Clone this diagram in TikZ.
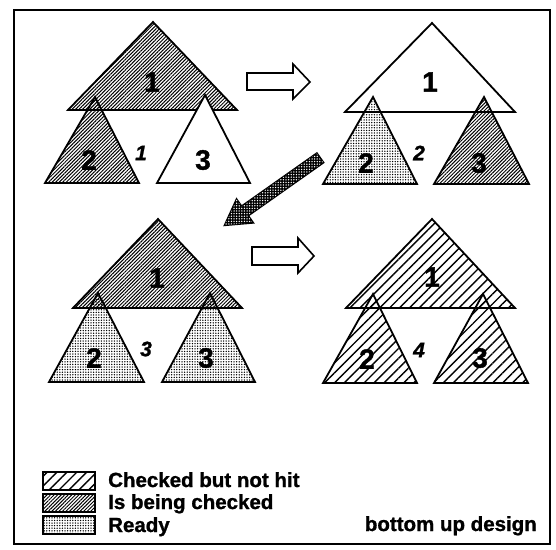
\documentclass[tikz,border=0pt]{standalone}
\usepackage{fontspec}
\setmainfont{Liberation Sans}[BoldFeatures={FakeBold=1.2},BoldItalicFeatures={FakeBold=1.2}]
\usetikzlibrary{patterns.meta}
\begin{document}
\begin{tikzpicture}[x=1pt,y=-1pt,line join=miter,
  tri/.style={draw=black,line width=1.8pt},
  chk/.style={tri,pattern={Lines[angle=45,distance=7pt,line width=1.4pt]}},
  being/.style={tri,pattern={Lines[angle=45,distance=2.5pt,line width=1pt]}},
  ready/.style={tri,pattern={Dots[distance=2.6pt,radius=0.75pt]}},
  plain/.style={tri,fill=white},
  digit/.style={font=\fontsize{28}{30}\selectfont\bfseries,inner sep=0pt},
  stepno/.style={font=\fontsize{21}{23}\selectfont\bfseries\itshape,inner sep=0pt},
  legtext/.style={font=\fontsize{20.5}{22}\selectfont\bfseries,inner sep=0pt,anchor=base west},
  hollow/.style={draw=black,line width=1.6pt,fill=white},
  frame/.style={draw=black,line width=2pt}]
\useasboundingbox (0,0) rectangle (556,549);
\draw[frame] (14,10) rectangle (550,544);

% panel 1
\draw[being] (153,22) -- (68,110) -- (237,110) -- cycle;
\draw[being] (95,97) -- (45,183) -- (139,183) -- cycle;
\draw[plain] (205,95) -- (157,183) -- (250,183) -- cycle;
\node[digit] (a1) at (152,82) {1};
\node[digit] (a2) at (89,160) {2};
\node[digit] (a3) at (203,160) {3};
\node[stepno] (s1) at (141,153) {1};

% panel 2
\draw[plain] (432,23) -- (345,112) -- (515,112) -- cycle;
\draw[ready] (373,97) -- (323,184) -- (417,184) -- cycle;
\draw[being] (484,97) -- (434,184) -- (529,184) -- cycle;
\node[digit] (b1) at (430,82) {1};
\node[digit] (b2) at (366,163) {2};
\node[digit] (b3) at (479,163) {3};
\node[stepno] (s2) at (419,153) {2};

% panel 3
\draw[being] (158,219) -- (73,308) -- (242,308) -- cycle;
\draw[ready] (98,293) -- (49,382) -- (144,382) -- cycle;
\draw[ready] (210,293) -- (162,382) -- (255,382) -- cycle;
\node[digit] (c1) at (157,278) {1};
\node[digit] (c2) at (94,358) {2};
\node[digit] (c3) at (206,358) {3};
\node[stepno] (s3) at (146,349) {3};

% panel 4
\draw[chk] (432,219) -- (346,308) -- (515,308) -- cycle;
\draw[chk] (373,294) -- (323,383) -- (417,383) -- cycle;
\draw[chk] (483,294) -- (434,383) -- (528,383) -- cycle;
\node[digit] (d1) at (432,277) {1};
\node[digit] (d2) at (367,359) {2};
\node[digit] (d3) at (480,358) {3};
\node[stepno] (s4) at (419,350) {4};

% hollow arrows
\draw[hollow] (247,73) -- (293,73) -- (293,64) -- (310,82) -- (293,99) -- (293,90) -- (247,90) -- cycle;
\draw[hollow] (252,247) -- (298,247) -- (298,238) -- (314,256) -- (298,273) -- (298,265) -- (252,265) -- cycle;

% diagonal arrow
\draw[line width=2.2pt,fill=black,postaction={pattern={Dots[distance=2.6pt,radius=0.75pt]},pattern color=white}]
  (316.8,153.5) -- (241.5,206.6) -- (236.6,199.6) -- (225,225) -- (252.8,222.6) -- (247.9,215.6) -- (323.2,162.5) -- cycle;

% legend
\draw[chk,line width=1.6pt] (43,472) rectangle (95,490);
\draw[being,line width=1.6pt] (43,494) rectangle (95,512);
\draw[ready,line width=1.6pt] (43,516) rectangle (95,534);
\node[legtext] (l1) at (108,487) {Checked but not hit};
\node[legtext] (l2) at (108,509) {Is being checked};
\node[legtext] (l3) at (108,532) {Ready};
\node[legtext,anchor=base east] (t) at (537,531) {bottom up design};
\end{tikzpicture}
\end{document}
